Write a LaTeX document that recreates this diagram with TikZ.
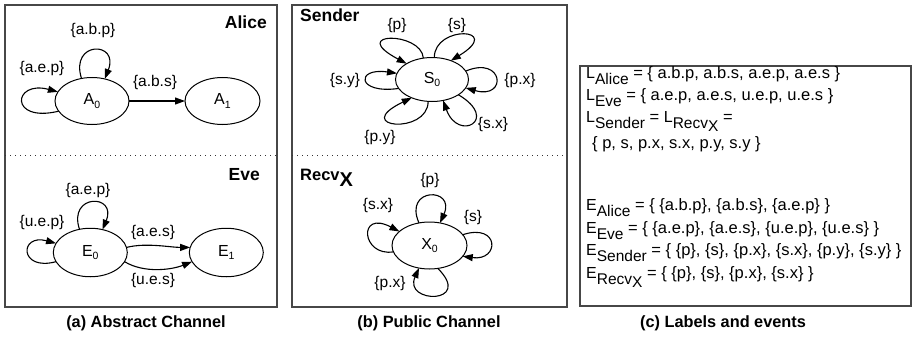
\documentclass[tikz,border=0pt]{standalone}
\usepackage{fontspec}
\setmainfont{Liberation Sans}
\usetikzlibrary{arrows.meta,shapes.geometric}
\newcommand\stsub[1]{\raisebox{-3.5pt}{\fontsize{10.5}{10.5}\selectfont #1}}
\newcommand\lsym[2]{{\fontsize{16}{16}\selectfont #1\raisebox{-6pt}{\fontsize{15.5}{15.5}\selectfont #2}}}
\newcommand\recvx{Recv\raisebox{-3.5pt}{X}}
\begin{document}
\begin{tikzpicture}[x=1pt,y=-1pt,
  pan/.style={draw=black!72,line width=1.3pt},
  sep/.style={draw=black!80,line width=1pt,dash pattern=on 1.3pt off 3.7pt},
  st/.style={ellipse,draw,line width=1pt,inner sep=0pt,outer sep=0pt,font=\fontsize{16}{16}\selectfont},
  ed/.style={line width=1.1pt,-{Triangle[length=10pt,width=7pt]}},
  lab/.style={inner sep=0pt,font=\fontsize{15.5}{15.5}\selectfont},
  ttl/.style={inner sep=0pt,font=\fontsize{17.5}{17.5}\selectfont\bfseries},
  captxt/.style={inner sep=0pt,font=\fontsize{16.3}{16.3}\selectfont\bfseries},
  txt/.style={inner sep=0pt,anchor=base west,font=\fontsize{16.5}{16.5}\selectfont}]
\useasboundingbox (0,0) rectangle (912,337);
% frames
\draw[pan] (5,5) rectangle (277,307);
\draw[pan] (292,5) rectangle (567,307);
\draw[pan] (580,66) rectangle (911,306);
\draw[sep] (5,155) -- (277,155);
\draw[sep] (292,155) -- (567,155);
% ---------- panel a : Alice
\node[ttl,anchor=east] (tAlice) at (267,22) {Alice};
\node[st,minimum width=74pt,minimum height=47pt] (A0) at (92,101) {A\stsub{0}};
\node[st,minimum width=75pt,minimum height=47pt] (A1) at (222.5,101) {A\stsub{1}};
\draw[ed] (A0.115) .. controls +(-12,-38) and +(15,-38) .. (A0.60);
\draw[ed] (A0.197) .. controls +(-50,12) and +(-45,-12) .. (A0.165);
\draw[ed] (A0) -- (A1);
\node[lab] (lA1) at (93,30) {\{a.b.p\}};
\node[lab] (lA2) at (42,68) {\{a.e.p\}};
\node[lab] (lA3) at (155,82) {\{a.b.s\}};
% ---------- panel a : Eve
\node[ttl,anchor=east] (tEve) at (260,175) {Eve};
\node[st,minimum width=74pt,minimum height=48.5pt] (E0) at (90.3,252.5) {E\stsub{0}};
\node[st,minimum width=74pt,minimum height=48.5pt] (E1) at (226.3,252.5) {E\stsub{1}};
\draw[ed] (E0.115) .. controls +(-12,-36) and +(15,-36) .. (E0.62);
\draw[ed] (E0.195) .. controls +(-37,10) and +(-37,-10) .. (E0.165);
\draw[ed] (E0.8) .. controls +(20,-5) and +(-20,0) .. (E1.172);
\draw[ed] (E0.-15) .. controls +(20,12) and +(-20,8) .. (E1.195);
\node[lab] (lE1) at (88,190) {\{a.e.p\}};
\node[lab] (lE2) at (42,222) {\{u.e.p\}};
\node[lab] (lE3) at (153,232) {\{a.e.s\}};
\node[lab] (lE4) at (153,280) {\{u.e.s\}};
% ---------- panel b : Sender
\node[ttl,anchor=west] (tSender) at (300,15) {Sender};
\node[st,minimum width=73pt,minimum height=44pt] (S0) at (432,79.5) {S\stsub{0}};
\draw[ed] (S0.112) .. controls +(-2,-27) and +(-60,-32) .. (S0.148);
\draw[ed] (S0.84) .. controls +(0,-33) and +(54,-33) .. (S0.45);
\draw[ed] (S0.14) .. controls +(38,-16) and +(42,12) .. (S0.-14);
\draw[ed] (S0.-30) .. controls +(42,25) and +(15,42) .. (S0.-62);
\draw[ed] (S0.-100) .. controls +(0,34) and +(-62,30) .. (S0.-138);
\draw[ed] (S0.195) .. controls +(-42,6) and +(-42,-6) .. (S0.170);
\node[lab] (lS1) at (397,25) {\{p\}};
\node[lab] (lS2) at (457,25) {\{s\}};
\node[lab] (lS3) at (520,80) {\{p.x\}};
\node[lab] (lS4) at (493,124) {\{s.x\}};
\node[lab] (lS5) at (380,137) {\{p.y\}};
\node[lab] (lS6) at (345,80) {\{s.y\}};
% ---------- panel b : Recv_X
\node[inner sep=0pt,anchor=west,font=\fontsize{16.5}{16.5}\selectfont\bfseries] (tRecv) at (300,178) {Recv\raisebox{-6pt}{\fontsize{20}{20}\selectfont X}};
\node[st,minimum width=75pt,minimum height=47pt] (X0) at (429.5,245.5) {X\stsub{0}};
\draw[ed] (X0.115) .. controls +(-16,-36) and +(16,-36) .. (X0.65);
\draw[ed] (X0.18) .. controls +(37,-12) and +(37,5) .. (X0.-18);
\draw[ed] (X0.190) .. controls +(-32,5) and +(-42,-22) .. (X0.155);
\draw[ed] (X0.-70) .. controls +(36,36) and +(-16,36) .. (X0.-115);
\node[lab] (lX1) at (430,180) {\{p\}};
\node[lab] (lX2) at (473,217) {\{s\}};
\node[lab] (lX3) at (378,205) {\{s.x\}};
\node[lab] (lX4) at (390,283) {\{p.x\}};
% ---------- panel c
\node[txt] (c1) at (586,78) {\lsym{L}{Alice} = \{ a.b.p, a.b.s, a.e.p, a.e.s \}};
\node[txt] (c2) at (586,100.5) {\lsym{L}{Eve} = \{ a.e.p, a.e.s, u.e.p, u.e.s \}};
\node[txt] (c3) at (586,122) {\lsym{L}{Sender} = \lsym{L}{\recvx} =};
\node[txt] (c4) at (592,148) {\{ p, s, p.x, s.x, p.y, s.y \}};
\node[txt] (c5) at (586,210.5) {\lsym{E}{Alice} = \{ \{a.b.p\}, \{a.b.s\}, \{a.e.p\} \}};
\node[txt] (c6) at (586,233) {\lsym{E}{Eve} = \{ \{a.e.p\}, \{a.e.s\}, \{u.e.p\}, \{u.e.s\} \}};
\node[txt] (c7) at (586,255.5) {\lsym{E}{Sender} = \{ \{p\}, \{s\}, \{p.x\}, \{s.x\}, \{p.y\}, \{s.y\} \}};
\node[txt] (c8) at (586,278) {\lsym{E}{\recvx} = \{ \{p\}, \{s\}, \{p.x\}, \{s.x\} \}};
% captions
\node[captxt] (capa) at (146,323) {(a) Abstract Channel};
\node[captxt] (capb) at (429,323) {(b) Public Channel};
\node[captxt] (capc) at (723,323) {(c) Labels and events};
\end{tikzpicture}
\end{document}
